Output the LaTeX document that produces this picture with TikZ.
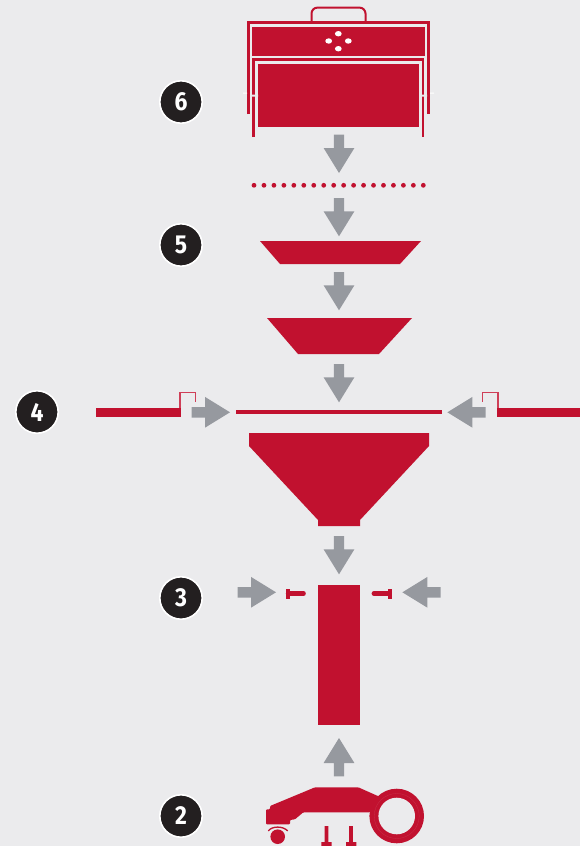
\documentclass[tikz,border=0pt]{standalone}
\usepackage{fontspec}
\setmainfont{Fira Sans}
\definecolor{bgc}{HTML}{EBEBED}
\definecolor{redc}{HTML}{C1112F}
\definecolor{redl}{HTML}{CF3F58}
\definecolor{greyc}{HTML}{96999F}
\definecolor{darkc}{HTML}{231F20}
\newcommand{\digitshape}[1]{\scalebox{0.88}[1.0]{#1}}
\tikzset{
  part/.style={fill=redc,draw=none},
  framed/.style={draw=redc,line width=2.7pt,line cap=butt,line join=miter},
  clip bracket/.style={draw=redl,line width=1.3pt},
  badge/.style={circle,draw=white,line width=1.6pt,fill=darkc,text=white,minimum size=42.4pt,inner sep=0pt,font=\fontsize{26}{26}\selectfont\bfseries},
  blockarrow/.pic={\fill[greyc] (-5.2,0) -- (5.2,0) -- (5.2,13.3) -- (15.4,13.3) -- (0,38.3) -- (-15.4,13.3) -- (-5.2,13.3) -- cycle;}
}
\begin{document}
\begin{tikzpicture}[x=1pt,y=-1pt]
\fill[bgc] (0,0) rectangle (580,846);
\useasboundingbox (0,0) rectangle (580,846);
% 6: press
\draw[draw=redc,line width=2pt,rounded corners=6pt] (311.5,22) -- (311.5,7.6) -- (365.5,7.6) -- (365.5,22);
\draw[framed] (248.3,114) -- (248.3,22.8) -- (428.7,22.8) -- (428.7,114);
\fill[part] (252,27) rectangle (425,56);
\draw[framed] (253.7,137) -- (253.7,59.6) -- (423,59.6) -- (423,137);
\fill[part] (258,64) rectangle (419,127);
\fill[white] (338.3,33.7) ellipse[x radius=3.4,y radius=2.7]
  (328.7,41) ellipse[x radius=3.4,y radius=2.7]
  (348.3,41) ellipse[x radius=3.4,y radius=2.7]
  (338.3,48.7) ellipse[x radius=3.4,y radius=2.7];
\fill[bgc] (250,94.5) rectangle (258,96.5) (419,94.5) rectangle (427,96.5);
\fill[white] (243,92.5) rectangle (247,93.7) (430,92.5) rectangle (434,93.7);
\foreach \i in {0,...,17} \fill[redc] ({254+9.96*\i},185.3) circle[radius=2.4];
% 5
\fill[part] (260,241) -- (421,241) -- (400,264) -- (280,264) -- cycle;
\fill[part] (267,318) -- (412,318) -- (379,354) -- (298,354) -- cycle;
% 4
\fill[part] (96,408) rectangle (181,416.7);
\draw[clip bracket] (180,408) -- (180,392.6) -- (195.4,392.6) -- (195.4,401.7);
\fill[part] (497,408) rectangle (580,416.7);
\draw[clip bracket] (482.6,401.7) -- (482.6,392.6) -- (498,392.6) -- (498,408);
\fill[part] (236,409.7) rectangle (442,413.7);
\fill[part] (249,433) -- (429,433) -- (429,446) -- (360,520) -- (360,526) -- (318,526) -- (318,520) -- (249,446) -- cycle;
% 3
\fill[part] (318,585) rectangle (360,725);
\fill[part] (285.7,588.7) rectangle (289.7,599);
\draw[redc,line width=4.2pt,line cap=round] (288,593.5) -- (303.7,593.5);
\fill[part] (387.7,588.7) rectangle (391.7,599);
\draw[redc,line width=4.2pt,line cap=round] (373.7,593.5) -- (389,593.5);
% 2: robot
\fill[part] (396.7,816) circle[radius=27.3];
\fill[bgc] (396.7,816) circle[radius=18.3];
\draw[white!12!redc,line width=.3pt] (396.7,816) circle[radius=22.5];
\fill[part,rounded corners=1pt] (266,809.3) -- (270,809.3) -- (270,806) -- (315,787.3) -- (358.3,787.3) -- (379,796.5) -- (370,812.3) -- (303.3,812.3) -- (295,819.3) -- (290,820) -- (290,824.3) -- (266,824.3) -- cycle;
\fill[part] (277.7,836.7) circle[radius=7.3];
\draw[redc,line width=1.3pt] (268.3,830.9) .. controls (272,825.8) and (283,825.8) .. (287.7,830.9);
\fill[part] (324.7,826) rectangle (328.3,842) (321.3,842) rectangle (331.7,846);
\fill[part] (349.2,826) rectangle (352.8,842) (346,842) rectangle (356.3,846);
% arrows
\path (339,134.7) pic[rotate=0] {blockarrow};
\path (339,198) pic[rotate=0] {blockarrow};
\path (339,272) pic[rotate=0] {blockarrow};
\path (339,364) pic[rotate=0] {blockarrow};
\path (339,536) pic[rotate=0] {blockarrow};
\path (339,776.3) pic[rotate=180] {blockarrow};
\path (191.7,412.3) pic[rotate=90] {blockarrow};
\path (485.7,412.3) pic[rotate=-90] {blockarrow};
\path (237.7,592.3) pic[rotate=90] {blockarrow};
\path (440.7,592.3) pic[rotate=-90] {blockarrow};
% badges
\node[badge] (b6) at (181,102) {\digitshape{6}};
\node[badge] (b5) at (181,245) {\digitshape{5}};
\node[badge] (b4) at (37,412) {\digitshape{4}};
\node[badge] (b3) at (181,598) {\digitshape{3}};
\node[badge] (b2) at (181,816) {\digitshape{2}};
\end{tikzpicture}
\end{document}
